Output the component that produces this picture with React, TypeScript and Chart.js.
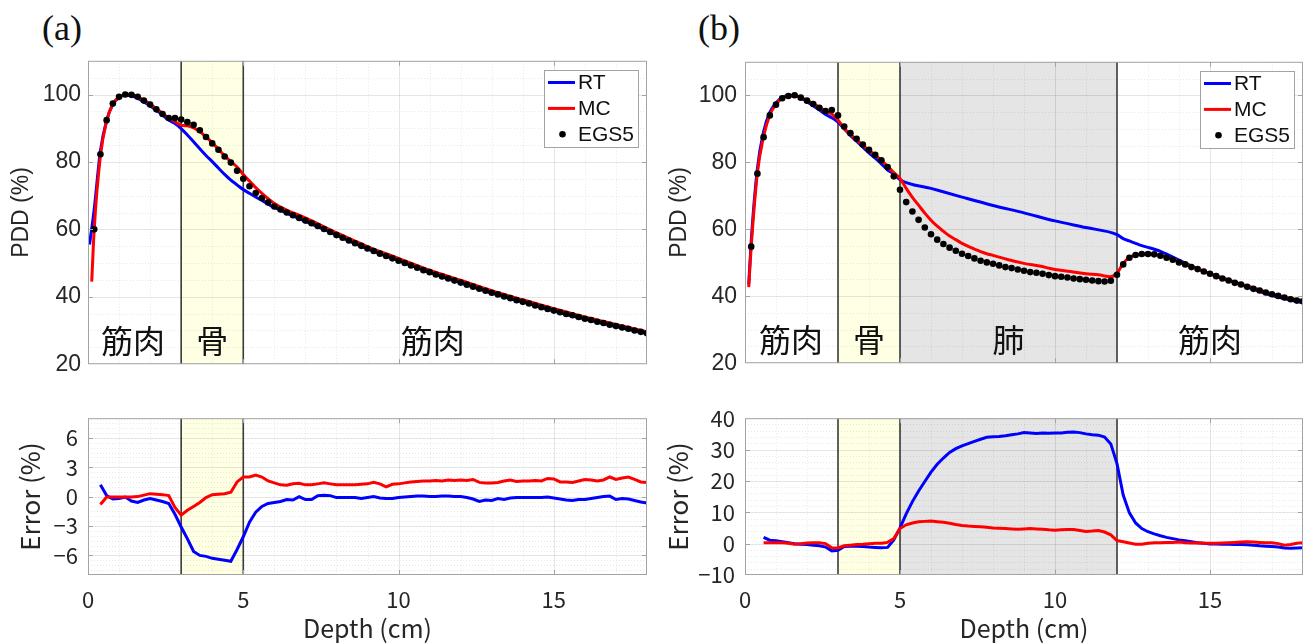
import React, { useEffect, useRef } from 'react';
import { Chart, registerables } from 'chart.js';
Chart.register(...registerables);

// ---------- data ----------
const DEPTH = [
  0.2, 0.4, 0.6, 0.8, 1.0, 1.2, 1.4, 1.6, 1.8, 2.0,
  2.2, 2.4, 2.6, 2.8, 3.0, 3.2, 3.4, 3.6, 3.8, 4.0,
  4.2, 4.4, 4.6, 4.8, 5.0, 5.2, 5.4, 5.6, 5.8, 6.0,
  6.2, 6.4, 6.6, 6.8, 7.0, 7.2, 7.4, 7.6, 7.8, 8.0,
  8.2, 8.4, 8.6, 8.8, 9.0, 9.2, 9.4, 9.6, 9.8, 10.0,
  10.2, 10.4, 10.6, 10.8, 11.0, 11.2, 11.4, 11.6, 11.8, 12.0,
  12.2, 12.4, 12.6, 12.8, 13.0, 13.2, 13.4, 13.6, 13.8, 14.0,
  14.2, 14.4, 14.6, 14.8, 15.0, 15.2, 15.4, 15.6, 15.8, 16.0,
  16.2, 16.4, 16.6, 16.8, 17.0, 17.2, 17.4, 17.6, 17.8, 18.0,
];

// (a) EGS5 reference dots
const A_EGS5 = [
  60.0, 82.3, 92.4, 97.3, 99.3, 100.0, 99.9, 99.3, 98.2, 97.0,
  95.6, 94.2, 93.0, 93.0, 92.6, 91.8, 91.0, 89.4, 87.4, 85.5,
  83.6, 81.6, 79.8, 77.4, 75.0, 72.8, 70.8, 69.3, 68.0, 66.8,
  65.9, 65.0, 64.2, 63.4, 62.6, 61.8, 61.0, 60.1, 59.2, 58.3,
  57.5, 56.7, 55.9, 55.1, 54.3, 53.6, 52.8, 52.1, 51.4, 50.7,
  50.0, 49.3, 48.6, 47.9, 47.3, 46.6, 46.0, 45.4, 44.8, 44.2,
  43.6, 43.0, 42.4, 41.8, 41.2, 40.7, 40.1, 39.6, 39.0, 38.5,
  38.0, 37.4, 36.9, 36.4, 35.9, 35.4, 34.9, 34.5, 34.0, 33.5,
  33.1, 32.6, 32.2, 31.7, 31.3, 30.9, 30.5, 30.0, 29.6, 29.2,
];

// (a) RT line
const A_RT_X = [
  0.05, 0.2, 0.4, 0.6, 0.8, 1.0, 1.2, 1.4, 1.6, 1.8, 2.0, 2.2, 2.4, 2.6, 2.8, 3.0,
  3.2, 3.4, 3.6, 3.8, 4.0, 4.2, 4.4, 4.6, 4.8, 5.0, 5.2, 5.4, 5.6, 5.8, 6.0, 6.4,
  7.0, 8.0, 9.0, 10.0, 11.0, 12.0, 13.0, 14.0, 15.0, 16.0, 17.0, 18.0,
];
const A_RT = [
  55.5, 66.0, 83.3, 92.3, 97.1, 99.1, 99.8, 99.6, 98.9, 97.8, 96.7, 95.3, 93.9, 92.4, 91.4, 89.9,
  88.0, 86.0, 83.9, 81.9, 80.1, 78.2, 76.3, 74.6, 73.2, 71.8, 70.7, 69.6, 68.6, 67.5, 66.5, 64.8,
  62.4, 58.3, 54.2, 50.7, 47.2, 44.1, 41.1, 38.4, 35.8, 33.4, 31.2, 29.0,
];

// (a) MC line
const A_MC_X = [
  0.12, 0.2, 0.4, 0.6, 0.8, 1.0, 1.2, 1.4, 1.6, 1.8, 2.0, 2.2, 2.4, 2.6, 2.8, 3.0,
  3.2, 3.4, 3.6, 3.8, 4.0, 4.2, 4.4, 4.6, 4.8, 5.0, 5.2, 5.4, 5.6, 5.8, 6.0, 6.4,
  7.0, 8.0, 9.0, 10.0, 11.0, 12.0, 13.0, 14.0, 15.0, 16.0, 17.0, 18.0,
];
const A_MC = [
  44.5, 60.0, 81.8, 92.2, 97.2, 99.2, 99.9, 99.9, 99.3, 98.3, 97.2, 95.8, 94.4, 93.1, 92.0, 90.9,
  90.7, 90.1, 89.0, 87.4, 85.7, 83.8, 81.8, 80.1, 78.5, 76.3, 74.3, 72.4, 70.7, 69.1, 67.7, 65.7,
  63.4, 59.0, 54.9, 51.4, 47.9, 44.9, 41.8, 39.1, 36.5, 34.0, 31.8, 29.6,
];

// (b) EGS5 reference dots
const B_EGS5 = [
  54.8, 76.6, 87.5, 94.0, 97.2, 99.1, 99.8, 100.0, 99.3, 98.4,
  97.4, 96.3, 95.3, 95.6, 94.0, 90.7, 88.7, 87.0, 85.3, 83.7,
  82.2, 80.6, 78.6, 75.8, 71.8, 68.1, 65.3, 62.8, 60.5, 58.5,
  56.9, 55.6, 54.5, 53.6, 52.7, 52.0, 51.3, 50.6, 50.1, 49.7,
  49.2, 48.7, 48.4, 48.0, 47.6, 47.2, 47.0, 46.7, 46.3, 46.0,
  45.8, 45.6, 45.3, 45.1, 44.9, 44.7, 44.5, 44.4, 44.6, 46.4,
  49.5, 51.5, 52.3, 52.6, 52.6, 52.5, 52.1, 51.5, 50.9, 50.1,
  49.5, 48.7, 48.1, 47.4, 46.7, 46.0, 45.3, 44.7, 44.0, 43.5,
  42.8, 42.2, 41.7, 41.1, 40.6, 40.1, 39.6, 39.1, 38.7, 38.5,
];

// (b) RT line
const B_RT_X = [
  0.12, 0.2, 0.4, 0.6, 0.8, 1.0, 1.2, 1.4, 1.6, 1.8, 2.0, 2.2, 2.4, 2.6, 2.8, 3.0,
  3.2, 3.4, 3.6, 3.8, 4.0, 4.2, 4.4, 4.6, 4.8, 5.0, 6.0, 7.0, 8.0, 9.0, 10.0, 11.0,
  12.0, 12.2, 12.4, 12.6, 12.8, 13.0, 13.4, 13.8, 14.2, 14.6, 15.0, 16.0, 17.0, 18.0,
];
const B_RT = [
  43.5, 56.5, 78.2, 89.2, 94.9, 97.7, 99.3, 99.9, 99.9, 99.2, 98.1, 96.9, 95.6, 94.3, 93.3, 92.0,
  90.0, 88.0, 86.3, 84.5, 82.8, 81.2, 79.5, 77.7, 76.5, 74.8, 72.2, 69.6, 67.1, 64.9, 62.5, 60.5,
  58.4, 57.2, 56.5, 55.8, 55.1, 54.6, 53.4, 51.7, 49.9, 48.2, 46.7, 43.4, 40.2, 38.0,
];

// (b) MC line
const B_MC_X = [
  0.12, 0.2, 0.4, 0.6, 0.8, 1.0, 1.2, 1.4, 1.6, 1.8, 2.0, 2.2, 2.4, 2.6, 2.8, 3.0,
  3.2, 3.4, 3.6, 3.8, 4.0, 4.2, 4.4, 4.6, 4.8, 5.0, 5.2, 5.4, 5.6, 5.8, 6.0, 6.2,
  6.4, 6.6, 6.8, 7.0, 7.2, 7.4, 7.6, 7.8, 8.0, 8.5, 9.0, 9.5, 10.0, 10.5, 11.0, 11.4,
  11.8, 12.0, 12.2, 12.4, 12.6, 12.8, 13.0, 13.4, 14.0, 15.0, 16.0, 17.0, 18.0,
];
const B_MC = [
  42.7, 54.8, 76.8, 87.7, 94.1, 97.3, 99.1, 99.8, 99.9, 99.3, 98.5, 97.5, 96.4, 95.3, 94.4, 92.6,
  90.1, 88.4, 86.7, 85.1, 83.6, 82.1, 80.6, 78.8, 76.9, 75.2, 72.2, 69.5, 67.2, 64.8, 62.7, 60.9,
  59.4, 58.0, 56.9, 55.8, 54.9, 54.1, 53.3, 52.7, 52.2, 50.9, 49.8, 49.0, 48.0, 47.4, 46.7, 46.4,
  45.8, 46.9, 49.8, 51.6, 52.3, 52.5, 52.6, 52.2, 50.3, 46.7, 43.7, 40.7, 38.6,
];

// (a) error (%), depths 0.4 .. 18.0
const A_ERR_X = DEPTH.slice(1);
const A_ERR_RT = [
  1.2, 0.1, -0.25, -0.2, -0.05, -0.45, -0.6, -0.35, -0.2, -0.35,
  -0.5, -0.7, -1.8, -3.1, -4.3, -5.6, -6.0, -6.1, -6.3, -6.4,
  -6.5, -6.6, -5.4, -4.1, -2.6, -1.6, -1.0, -0.7, -0.6, -0.5,
  -0.3, -0.35, 0.0, -0.3, -0.3, 0.1, 0.15, 0.1, -0.1, -0.1,
  -0.1, -0.1, -0.2, -0.1, 0.0, -0.15, -0.2, -0.2, -0.1, -0.05,
  0.0, 0.05, 0.05, 0.0, 0.0, 0.05, 0.05, 0.0, 0.0, -0.1,
  -0.25, -0.5, -0.35, -0.4, -0.2, -0.3, -0.15, -0.1, -0.1, -0.1,
  -0.1, -0.1, -0.05, -0.15, -0.25, -0.35, -0.4, -0.3, -0.3, -0.2,
  -0.1, 0.0, 0.05, -0.3, -0.2, -0.25, -0.4, -0.55, -0.65,
];
const A_ERR_MC = [
  -0.8, -0.05, -0.05, -0.05, -0.05, -0.05, 0.0, 0.15, 0.3, 0.25,
  0.2, 0.1, -1.1, -1.9, -1.4, -1.0, -0.6, -0.1, 0.2, 0.25,
  0.3, 0.45, 1.5, 2.0, 2.0, 2.2, 2.0, 1.6, 1.4, 1.2,
  1.15, 1.3, 1.35, 1.2, 1.2, 1.3, 1.4, 1.3, 1.2, 1.2,
  1.2, 1.2, 1.25, 1.3, 1.45, 1.3, 1.0, 1.25, 1.3, 1.4,
  1.5, 1.55, 1.6, 1.6, 1.65, 1.6, 1.7, 1.65, 1.7, 1.65,
  1.75, 1.45, 1.4, 1.4, 1.45, 1.6, 1.7, 1.55, 1.6, 1.6,
  1.65, 1.6, 1.85, 1.8, 1.5, 1.5, 1.45, 1.6, 1.75, 1.7,
  1.6, 1.7, 2.0, 1.75, 1.9, 2.0, 1.75, 1.5, 1.45,
];

// (b) error (%), depths 0.6 .. 18.0
const B_ERR_X = DEPTH.slice(2);
const B_ERR_RT = [
  2.0, 1.1, 0.9, 0.6, 0.3, 0.0, -0.2, -0.3, -0.5, -0.7,
  -1.1, -2.3, -2.1, -0.9, -0.8, -0.8, -0.9, -1.1, -1.2, -1.3,
  -1.2, 1.2, 5.0, 9.5, 13.4, 16.8, 19.8, 22.8, 25.3, 27.3,
  29.1, 30.3, 31.2, 31.9, 32.6, 33.3, 33.9, 34.1, 34.2, 34.4,
  34.7, 35.0, 35.4, 35.3, 35.1, 35.3, 35.2, 35.3, 35.3, 35.5,
  35.6, 35.4, 35.0, 34.7, 34.6, 34.0, 31.8, 25.5, 15.5, 9.8,
  6.6, 4.8, 3.8, 3.1, 2.5, 2.0, 1.6, 1.2, 0.9, 0.6,
  0.3, 0.1, -0.1, -0.15, -0.2, -0.2, -0.25, -0.3, -0.35, -0.5,
  -0.7, -0.8, -0.9, -1.1, -1.4, -1.5, -1.4, -1.3,
];
const B_ERR_MC = [
  0.3, 0.3, 0.3, 0.3, 0.1, -0.2, 0.0, 0.2, 0.3, 0.3,
  0.0, -1.3, -1.4, -0.7, -0.5, -0.3, -0.2, 0.0, 0.1, 0.1,
  0.4, 1.6, 4.8, 6.0, 6.6, 7.0, 7.1, 7.2, 7.0, 6.8,
  6.5, 6.1, 5.8, 5.6, 5.5, 5.4, 5.2, 5.0, 4.9, 4.8,
  4.7, 4.6, 4.7, 4.8, 4.7, 4.6, 4.4, 4.3, 4.4, 4.5,
  4.5, 4.2, 3.9, 4.0, 4.2, 3.7, 2.8, 1.0, 0.6, 0.2,
  -0.2, -0.2, 0.1, 0.3, 0.3, 0.4, 0.4, 0.5, 0.3, 0.2,
  0.3, 0.1, 0.1, 0.1, 0.2, 0.3, 0.4, 0.5, 0.6, 0.5,
  0.4, 0.3, 0.3, 0.0, -0.5, -0.3, 0.1, 0.3,
];

// ticks
const X_TICKS = [0, 5, 10, 15];
const PDD_TICKS = [20, 40, 60, 80, 100];
const ERR_A_TICKS = [-6, -3, 0, 3, 6];
const ERR_B_TICKS = [-10, 0, 10, 20, 30, 40];

// tissue layout
const A_BOUNDS = [3, 5];
const B_BOUNDS = [3, 5, 12];
const A_TISSUE = ['筋肉', '骨', '筋肉'];
const A_TISSUE_X = [1.45, 4.0, 11.1];
const B_TISSUE = ['筋肉', '骨', '肺', '筋肉'];
const B_TISSUE_X = [1.48, 4.0, 8.5, 15.0];

// ---------- styles ----------
const C_RT = '#0000ff';
const C_MC = '#ff0000';
const C_BONE = 'rgb(255,255,228)';
const C_LUNG = 'rgb(229,229,229)';
const C_FRAME = '#a3a3a3';
const C_EDGE = '#3a3a3a';
const C_TEXT = '#262626';
const SANS = '"Liberation Sans", Arial, sans-serif';
const JP = '"Noto Sans CJK JP", sans-serif';

const xy = (xs: number[], ys: number[]) => xs.map((x, i) => ({ x, y: ys[i] }));

const lineDs = (label: string, data: any[], color: string, order: number, smooth: boolean) => ({
  label, data, showLine: true, borderColor: color, backgroundColor: color, borderWidth: 3,
  pointRadius: 0, order, cubicInterpolationMode: smooth ? 'monotone' : 'default', tension: 0,
});
const dotDs = (data: any[]) => ({
  label: 'EGS5', data, showLine: false, backgroundColor: '#000', borderColor: '#000',
  pointRadius: 3.3, pointBorderWidth: 0, order: 1,
});

type Meta = {
  regions: { from: number; to: number; color: string }[];
  bounds: number[];
  xMinor: number; yMinor: number;
  xTicks: number[]; yTicks: number[];
  labels?: string[]; labelX?: number[]; labelY?: number;
  legend?: boolean;
};

function makePlugin(m: Meta) {
  return {
    id: 'panel',
    beforeDatasetsDraw(chart: any) {
      const { ctx, chartArea: a } = chart;
      const xs = chart.scales.x, ys = chart.scales.y;
      ctx.save();
      ctx.beginPath();
      ctx.rect(a.left, a.top, a.right - a.left, a.bottom - a.top);
      ctx.clip();
      for (const r of m.regions) {
        const x0 = xs.getPixelForValue(r.from), x1 = xs.getPixelForValue(r.to);
        ctx.fillStyle = r.color;
        ctx.fillRect(x0, a.top, x1 - x0, a.bottom - a.top);
      }
      const isMajor = (v: number, t: number[]) => t.some((q) => Math.abs(q - v) < 1e-6);
      // minor grid
      ctx.lineWidth = 1;
      ctx.setLineDash([1, 2]);
      ctx.strokeStyle = 'rgba(0,0,0,0.09)';
      for (let k = Math.ceil(xs.min / m.xMinor); k * m.xMinor <= xs.max + 1e-9; k++) {
        const v = k * m.xMinor;
        if (isMajor(v, m.xTicks)) continue;
        const px = Math.round(xs.getPixelForValue(v)) + 0.5;
        ctx.beginPath(); ctx.moveTo(px, a.top); ctx.lineTo(px, a.bottom); ctx.stroke();
      }
      for (let k = Math.ceil(ys.min / m.yMinor); k * m.yMinor <= ys.max + 1e-9; k++) {
        const v = k * m.yMinor;
        if (isMajor(v, m.yTicks)) continue;
        const py = Math.round(ys.getPixelForValue(v)) + 0.5;
        ctx.beginPath(); ctx.moveTo(a.left, py); ctx.lineTo(a.right, py); ctx.stroke();
      }
      // major grid
      ctx.setLineDash([]);
      ctx.strokeStyle = 'rgba(0,0,0,0.1)';
      for (const v of m.xTicks) {
        const px = Math.round(xs.getPixelForValue(v)) + 0.5;
        ctx.beginPath(); ctx.moveTo(px, a.top); ctx.lineTo(px, a.bottom); ctx.stroke();
      }
      for (const v of m.yTicks) {
        const py = Math.round(ys.getPixelForValue(v)) + 0.5;
        ctx.beginPath(); ctx.moveTo(a.left, py); ctx.lineTo(a.right, py); ctx.stroke();
      }
      // tissue boundaries
      ctx.strokeStyle = C_EDGE;
      ctx.lineWidth = 1.6;
      for (const b of m.bounds) {
        const px = xs.getPixelForValue(b);
        ctx.beginPath(); ctx.moveTo(px, a.top); ctx.lineTo(px, a.bottom); ctx.stroke();
      }
      ctx.restore();
    },
    afterDraw(chart: any) {
      const { ctx, chartArea: a } = chart;
      const xs = chart.scales.x, ys = chart.scales.y;
      ctx.save();
      ctx.strokeStyle = C_FRAME;
      ctx.lineWidth = 1;
      ctx.strokeRect(a.left + 0.5, a.top + 0.5, a.right - a.left - 1, a.bottom - a.top - 1);
      // inner tick marks
      for (const v of m.xTicks) {
        const px = Math.round(xs.getPixelForValue(v)) + 0.5;
        if (px <= a.left + 1) continue;
        ctx.beginPath();
        ctx.moveTo(px, a.bottom); ctx.lineTo(px, a.bottom - 5);
        ctx.moveTo(px, a.top); ctx.lineTo(px, a.top + 5);
        ctx.stroke();
      }
      for (const v of m.yTicks) {
        const py = Math.round(ys.getPixelForValue(v)) + 0.5;
        if (py <= a.top + 1 || py >= a.bottom - 1) continue;
        ctx.beginPath();
        ctx.moveTo(a.left, py); ctx.lineTo(a.left + 5, py);
        ctx.moveTo(a.right, py); ctx.lineTo(a.right - 5, py);
        ctx.stroke();
      }
      // tissue names
      if (m.labels && m.labelX) {
        ctx.fillStyle = '#111';
        ctx.font = `32px ${JP}`;
        ctx.textAlign = 'center';
        ctx.textBaseline = 'middle';
        m.labels.forEach((t, i) => {
          ctx.fillText(t, xs.getPixelForValue(m.labelX![i]), ys.getPixelForValue(m.labelY!));
        });
      }
      // legend
      if (m.legend) {
        const bw = 94, bh = 77;
        const bx = Math.round(a.right - 9 - bw), by = Math.round(a.top + 9);
        ctx.fillStyle = '#fff';
        ctx.fillRect(bx, by, bw, bh);
        ctx.strokeStyle = C_FRAME;
        ctx.lineWidth = 1;
        ctx.strokeRect(bx + 0.5, by + 0.5, bw, bh);
        const rows = [
          { t: 'RT', c: C_RT, dot: false },
          { t: 'MC', c: C_MC, dot: false },
          { t: 'EGS5', c: '#000', dot: true },
        ];
        ctx.font = `21px ${SANS}`;
        ctx.textAlign = 'left';
        ctx.textBaseline = 'middle';
        rows.forEach((r, i) => {
          const cy = by + 12.5 + i * 25.9;
          if (r.dot) {
            ctx.fillStyle = r.c;
            ctx.beginPath(); ctx.arc(bx + 18.5, cy, 3.3, 0, Math.PI * 2); ctx.fill();
          } else {
            ctx.strokeStyle = r.c;
            ctx.lineWidth = 3;
            ctx.beginPath(); ctx.moveTo(bx + 4, cy); ctx.lineTo(bx + 31, cy); ctx.stroke();
          }
          ctx.fillStyle = '#111';
          ctx.fillText(r.t, bx + 34, cy + 1);
        });
      }
      ctx.restore();
    },
  };
}

type Panel = {
  left: number; top: number; width: number; height: number;
  yAxisW: number; padTop: number; padRight: number; xAxisH: number;
  yMin: number; yMax: number; yTicks: number[];
  yTitle: string; yTitleFont: any; yTitlePad: number; yTickFont: any; yTickPad: number;
  showX: boolean;
  datasets: any[];
  meta: Meta;
};

const fmt = (v: number) => String(v).replace('-', '\u2212');

function makeConfig(p: Panel): any {
  return {
    type: 'scatter',
    data: { datasets: p.datasets },
    options: {
      responsive: false,
      animation: false,
      events: [],
      layout: { padding: { left: 0, top: p.padTop, right: p.padRight, bottom: 0 } },
      plugins: { legend: { display: false }, tooltip: { enabled: false } },
      scales: {
        x: {
          type: 'linear', min: 0, max: 18,
          grid: { display: false, drawTicks: false },
          border: { display: false },
          afterBuildTicks: (s: any) => { s.ticks = X_TICKS.map((v) => ({ value: v })); },
          afterFit: (s: any) => { s.height = p.xAxisH; },
          ticks: {
            display: p.showX, padding: 11, autoSkip: false, maxRotation: 0,
            font: { family: JP, size: 22 }, color: C_TEXT,
            callback: (v: number) => fmt(v),
          },
          title: {
            display: p.showX, text: 'Depth (cm)', color: C_TEXT,
            font: { family: JP, size: 25 }, padding: { top: 0, bottom: 0 },
          },
        },
        y: {
          type: 'linear', min: p.yMin, max: p.yMax,
          grid: { display: false, drawTicks: false },
          border: { display: false },
          afterBuildTicks: (s: any) => { s.ticks = p.yTicks.map((v) => ({ value: v })); },
          afterFit: (s: any) => { s.width = p.yAxisW; },
          ticks: {
            padding: p.yTickPad, autoSkip: false, font: p.yTickFont, color: C_TEXT,
            callback: (v: number) => fmt(v),
          },
          title: {
            display: true, text: p.yTitle, color: C_TEXT, font: p.yTitleFont,
            padding: { top: p.yTitlePad, bottom: 0 },
          },
        },
      },
    },
    plugins: [makePlugin(p.meta)],
  };
}

const A_REGIONS = [{ from: 3, to: 5, color: C_BONE }];
const B_REGIONS = [{ from: 3, to: 5, color: C_BONE }, { from: 5, to: 12, color: C_LUNG }];

const PANELS: Panel[] = [
  {
    left: 0, top: 40, width: 660, height: 345,
    yAxisW: 88, padTop: 13, padRight: 13, xAxisH: 8,
    yMin: 20, yMax: 110, yTicks: PDD_TICKS,
    yTitle: 'PDD (%)', yTitleFont: { family: SANS, size: 23 }, yTitlePad: 8,
    yTickFont: { family: SANS, size: 23 }, yTickPad: 7, showX: false,
    datasets: [
      dotDs(xy(DEPTH, A_EGS5)),
      lineDs('MC', xy(A_MC_X, A_MC), C_MC, 2, true),
      lineDs('RT', xy(A_RT_X, A_RT), C_RT, 3, true),
    ],
    meta: {
      regions: A_REGIONS, bounds: A_BOUNDS, xMinor: 1, yMinor: 5, xTicks: X_TICKS, yTicks: PDD_TICKS,
      labels: A_TISSUE, labelX: A_TISSUE_X, labelY: 27, legend: true,
    },
  },
  {
    left: 660, top: 40, width: 649, height: 345,
    yAxisW: 85, padTop: 13, padRight: 6, xAxisH: 8,
    yMin: 20, yMax: 110, yTicks: PDD_TICKS,
    yTitle: 'PDD (%)', yTitleFont: { family: SANS, size: 23 }, yTitlePad: 6,
    yTickFont: { family: SANS, size: 23 }, yTickPad: 8, showX: false,
    datasets: [
      dotDs(xy(DEPTH, B_EGS5)),
      lineDs('MC', xy(B_MC_X, B_MC), C_MC, 2, true),
      lineDs('RT', xy(B_RT_X, B_RT), C_RT, 3, true),
    ],
    meta: {
      regions: B_REGIONS, bounds: B_BOUNDS, xMinor: 1, yMinor: 5, xTicks: X_TICKS, yTicks: PDD_TICKS,
      labels: B_TISSUE, labelX: B_TISSUE_X, labelY: 27, legend: true,
    },
  },
  {
    left: 0, top: 395, width: 660, height: 248,
    yAxisW: 88, padTop: 13, padRight: 13, xAxisH: 68,
    yMin: -8, yMax: 8, yTicks: ERR_A_TICKS,
    yTitle: 'Error (%)', yTitleFont: { family: JP, size: 26 }, yTitlePad: 15,
    yTickFont: { family: JP, size: 22 }, yTickPad: 10, showX: true,
    datasets: [
      lineDs('MC', xy(A_ERR_X, A_ERR_MC), C_MC, 2, false),
      lineDs('RT', xy(A_ERR_X, A_ERR_RT), C_RT, 3, false),
    ],
    meta: {
      regions: A_REGIONS, bounds: A_BOUNDS, xMinor: 1, yMinor: 0.5, xTicks: X_TICKS, yTicks: ERR_A_TICKS,
    },
  },
  {
    left: 660, top: 395, width: 649, height: 248,
    yAxisW: 85, padTop: 13, padRight: 6, xAxisH: 68,
    yMin: -10, yMax: 40, yTicks: ERR_B_TICKS,
    yTitle: 'Error (%)', yTitleFont: { family: JP, size: 26 }, yTitlePad: 3,
    yTickFont: { family: JP, size: 22 }, yTickPad: 10, showX: true,
    datasets: [
      lineDs('MC', xy(B_ERR_X, B_ERR_MC), C_MC, 2, false),
      lineDs('RT', xy(B_ERR_X, B_ERR_RT), C_RT, 3, false),
    ],
    meta: {
      regions: B_REGIONS, bounds: B_BOUNDS, xMinor: 1, yMinor: 2, xTicks: X_TICKS, yTicks: ERR_B_TICKS,
    },
  },
];

export default function App() {
  const r0 = useRef<HTMLCanvasElement>(null);
  const r1 = useRef<HTMLCanvasElement>(null);
  const r2 = useRef<HTMLCanvasElement>(null);
  const r3 = useRef<HTMLCanvasElement>(null);
  const refs = [r0, r1, r2, r3];

  useEffect(() => {
    const charts = PANELS.map((p, i) => new Chart(refs[i].current as HTMLCanvasElement, makeConfig(p)));
    return () => charts.forEach((c) => c.destroy());
  }, []);

  const tag = (t: string, left: number) => (
    <div style={{
      position: 'absolute', left, top: 10, font: '36px "Liberation Serif", "Times New Roman", serif',
      lineHeight: '36px', color: '#111',
    }}>{t}</div>
  );

  return (
    <div style={{ position: 'absolute', left: 0, top: 0, width: 1309, height: 643, background: '#fff', overflow: 'hidden' }}>
      {tag('(a)', 42)}
      {tag('(b)', 698)}
      {PANELS.map((p, i) => (
        <canvas
          key={i}
          ref={refs[i]}
          width={p.width}
          height={p.height}
          style={{ position: 'absolute', left: p.left, top: p.top, width: p.width, height: p.height }}
        />
      ))}
    </div>
  );
}
